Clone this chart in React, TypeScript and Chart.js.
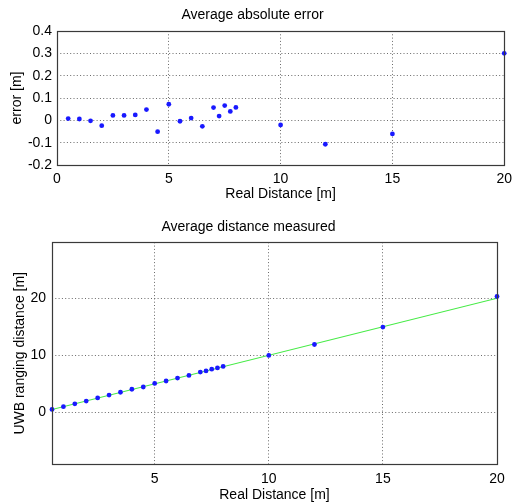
import React, { useEffect, useRef } from "react";
import { Chart, registerables } from "chart.js";

Chart.register(...registerables);

const realDistance = [0.5, 1, 1.5, 2, 2.5, 3, 3.5, 4, 4.5, 5, 5.5, 6, 6.5, 7, 7.25, 7.5, 7.75, 8, 10, 12, 15, 20];
const avgError = [0.008, 0.006, -0.002, -0.024, 0.022, 0.022, 0.024, 0.048, -0.051, 0.072, -0.004, 0.010, -0.027, 0.057, 0.019, 0.066, 0.040, 0.058, -0.021, -0.107, -0.061, 0.300];
const measuredDistance = [0.508, 1.006, 1.498, 1.976, 2.522, 3.022, 3.524, 4.048, 4.449, 5.072, 5.496, 6.010, 6.473, 7.057, 7.269, 7.566, 7.790, 8.058, 9.979, 11.893, 14.939, 20.300];
const idealLine = [0.5, 20];

const topXTicks = [0, 5, 10, 15, 20];
const topYTicks = [-0.2, -0.1, 0, 0.1, 0.2, 0.3, 0.4];
const botXTicks = [5, 10, 15, 20];
const botYTicks = [0, 10, 20];

const FONT = "'Liberation Sans', Arial, Helvetica, sans-serif";
const BLUE = "rgb(25,25,255)";
const GRID = "rgba(80,80,80,0.85)";

const framePlugin = {
  id: "frame",
  afterDraw(chart: any) {
    const { ctx, chartArea } = chart;
    ctx.save();
    ctx.strokeStyle = "#3a3a3a";
    ctx.lineWidth = 1.2;
    ctx.setLineDash([]);
    const l = Math.round(chartArea.left) + 0.5;
    const t = Math.round(chartArea.top) + 0.5;
    const r = Math.round(chartArea.right) + 0.5;
    const b = Math.round(chartArea.bottom) + 0.5;
    ctx.strokeRect(l, t, r - l, b - t);
    ctx.restore();
  },
};

function fmt(v: number) {
  const r = Math.round(v * 10) / 10;
  return r === 0 ? "0" : String(r);
}

function makeOptions(cfg: any) {
  return {
    animation: false,
    responsive: false,
    maintainAspectRatio: false,
    layout: { padding: { left: 0, right: cfg.padRight, top: 0, bottom: 0 } },
    plugins: {
      legend: { display: false },
      tooltip: { enabled: false },
      title: {
        display: true,
        text: cfg.title,
        color: "#000",
        font: { family: FONT, size: 14, weight: "normal", lineHeight: 1.2 },
        padding: { top: cfg.titlePadTop, bottom: cfg.titlePadBottom },
      },
    },
    scales: {
      x: {
        type: "linear",
        min: cfg.xMin,
        max: cfg.xMax,
        afterBuildTicks: (s: any) => {
          s.ticks = cfg.xTicks.map((v: number) => ({ value: v }));
        },
        afterFit: (s: any) => {
          s.height = cfg.xAxisHeight;
        },
        ticks: {
          color: "#000",
          font: { family: FONT, size: 14 },
          padding: cfg.xTickPad,
          maxRotation: 0,
          autoSkip: false,
          callback: (v: any) => fmt(Number(v)),
        },
        grid: {
          color: GRID,
          lineWidth: 1,
          drawTicks: false,
        },
        border: { display: false, dash: [1, 2.3] },
        title: {
          display: true,
          text: "Real Distance [m]",
          color: "#000",
          font: { family: FONT, size: 14, lineHeight: cfg.xTitleLH },
          padding: { top: cfg.xTitlePad, bottom: cfg.xTitlePad },
        },
      },
      y: {
        type: "linear",
        min: cfg.yMin,
        max: cfg.yMax,
        afterBuildTicks: (s: any) => {
          s.ticks = cfg.yTicks.map((v: number) => ({ value: v }));
        },
        afterFit: (s: any) => {
          s.width = cfg.yAxisWidth;
        },
        ticks: {
          color: "#000",
          font: { family: FONT, size: 14 },
          padding: cfg.yTickPad,
          autoSkip: false,
          callback: (v: any) => fmt(Number(v)),
        },
        grid: {
          color: GRID,
          lineWidth: 1,
          drawTicks: false,
        },
        border: { display: false, dash: [1, 2.3] },
        title: {
          display: true,
          text: cfg.yTitle,
          color: "#000",
          font: { family: FONT, size: 14, lineHeight: 1.2 },
          padding: { top: cfg.yTitlePad, bottom: cfg.yTitlePad },
        },
      },
    },
  };
}

function useChart(ref: any, build: () => any) {
  useEffect(() => {
    if (!ref.current) return;
    const chart = new Chart(ref.current, build());
    return () => chart.destroy();
  }, []);
}

export default function App() {
  const topRef = useRef<HTMLCanvasElement>(null);
  const botRef = useRef<HTMLCanvasElement>(null);

  useChart(topRef, () => ({
    type: "scatter",
    data: {
      datasets: [
        {
          data: realDistance.map((x, i) => ({ x, y: avgError[i] })),
          backgroundColor: BLUE,
          borderColor: BLUE,
          pointRadius: 2.4,
          borderWidth: 0,
          showLine: false,
          clip: false,
        },
      ],
    },
    options: makeOptions({
      title: "Average absolute error",
      titlePadTop: 6.6,
      titlePadBottom: 7.6,
      padRight: 13,
      xMin: 0,
      xMax: 20,
      xTicks: topXTicks,
      xAxisHeight: 40,
      xTickPad: 6,
      xTitlePad: 2.6,
      xTitleLH: 1.2,
      yMin: -0.2,
      yMax: 0.4,
      yTicks: topYTicks,
      yAxisWidth: 57,
      yTickPad: 5,
      yTitle: "error [m]",
      yTitlePad: 9,
    }),
    plugins: [framePlugin],
  }));

  useChart(botRef, () => ({
    type: "scatter",
    data: {
      datasets: [
        {
          data: realDistance.map((x, i) => ({ x, y: measuredDistance[i] })),
          backgroundColor: BLUE,
          borderColor: BLUE,
          pointRadius: 2.4,
          borderWidth: 0,
          showLine: false,
          clip: false,
          order: 0,
        },
        {
          data: idealLine.map((x) => ({ x, y: x })),
          borderColor: "rgb(70,235,70)",
          backgroundColor: "rgb(70,235,70)",
          borderWidth: 1.2,
          pointRadius: 0,
          showLine: true,
          order: 1,
        },
      ],
    },
    options: makeOptions({
      title: "Average distance measured",
      titlePadTop: 13.6,
      titlePadBottom: 6.9,
      padRight: 21,
      xMin: 0.5,
      xMax: 20,
      xTicks: botXTicks,
      xAxisHeight: 37.7,
      xTickPad: 6.3,
      xTitlePad: 0,
      xTitleLH: 1.0,
      yMin: -9.1,
      yMax: 29.8,
      yTicks: botYTicks,
      yAxisWidth: 52,
      yTickPad: 6,
      yTitle: "UWB ranging distance [m]",
      yTitlePad: 12,
    }),
    plugins: [framePlugin],
  }));

  return (
    <div style={{ position: "absolute", left: 0, top: 0, width: 518, height: 502, background: "#fff" }}>
      <canvas ref={topRef} width={518} height={205} style={{ position: "absolute", left: 0, top: 0, width: 518, height: 205, display: "block" }} />
      <canvas ref={botRef} width={518} height={297} style={{ position: "absolute", left: 0, top: 205, width: 518, height: 297, display: "block" }} />
    </div>
  );
}
